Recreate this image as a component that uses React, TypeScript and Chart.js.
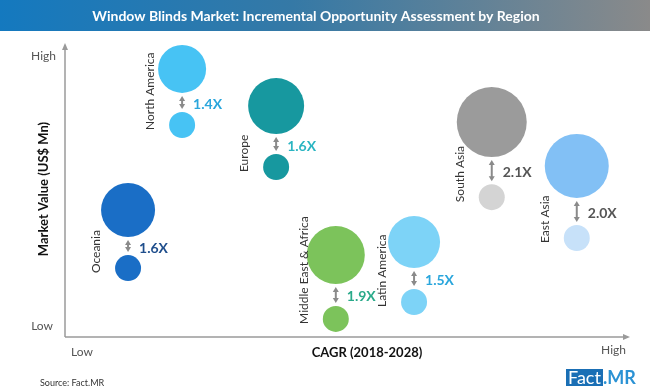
import React, { useEffect, useRef } from "react";
import { Chart, registerables } from "chart.js";

Chart.register(...registerables);

// ---- Data ----
const regions = ["North America", "Europe", "Oceania", "Middle East & Africa", "Latin America", "South Asia", "East Asia"];
// relative CAGR position (Low=0 .. High=100)
const cagrIndex = [20.8, 37.5, 11.2, 48.1, 62.0, 75.8, 90.9];
// relative market value position (Low=0 .. High=100)
const value2018 = [72.6, 58.2, 23.6, 6.2, 12.0, 47.9, 33.9];
const value2028 = [91.8, 79.1, 43.5, 28.1, 32.5, 73.6, 58.6];
// bubble sizes
const size2018 = [13, 13, 13, 13, 13, 13, 13];
const size2028 = [24, 28, 27, 29, 26, 35, 32];
const multipliers = ["1.4X", "1.6X", "1.6X", "1.9X", "1.5X", "2.1X", "2.0X"];

const bigColors = ["#47c3f4", "#17989f", "#1a6ec6", "#7cc35b", "#7dd3f7", "#9b9b9b", "#82c0f5"];
const smallColors = ["#47c3f4", "#17989f", "#1a6ec6", "#7cc35b", "#7dd3f7", "#d4d4d4", "#c7e1f9"];
const multColors = ["#2aa6dc", "#2bb5c2", "#1f4e8c", "#2aaa8a", "#2aa6dc", "#555555", "#555555"];

const FONT = "Lato, 'Open Sans', 'DejaVu Sans', sans-serif";

const decor = {
  id: "decor",
  beforeDraw(chart: any) {
    const ctx = chart.ctx;
    const W = chart.width;
    ctx.save();
    ctx.fillStyle = "#ffffff";
    ctx.fillRect(0, 0, W, chart.height);
    const g = ctx.createLinearGradient(0, 0, W, 0);
    g.addColorStop(0, "#1479bf");
    g.addColorStop(0.45, "#3579a6");
    g.addColorStop(1, "#8a8a8a");
    ctx.fillStyle = g;
    ctx.fillRect(0, 0, W, 31);
    ctx.fillStyle = "#ffffff";
    ctx.font = `bold 14px ${FONT}`;
    ctx.textAlign = "center";
    ctx.textBaseline = "middle";
    ctx.fillText("Window Blinds Market: Incremental Opportunity Assessment by Region", 316, 16);
    ctx.restore();
  },
  afterDatasetsDraw(chart: any) {
    const ctx = chart.ctx;
    const { left, right, top, bottom } = chart.chartArea;
    const xs = chart.scales.x;
    const ys = chart.scales.y;
    ctx.save();

    // axes
    ctx.strokeStyle = "#9a9a9a";
    ctx.fillStyle = "#9a9a9a";
    ctx.lineWidth = 1.5;
    ctx.beginPath();
    ctx.moveTo(left, bottom);
    ctx.lineTo(left, top + 2);
    ctx.moveTo(left, bottom);
    ctx.lineTo(right - 2, bottom);
    ctx.stroke();
    ctx.beginPath();
    ctx.moveTo(left, top - 2);
    ctx.lineTo(left - 3, top + 5);
    ctx.lineTo(left + 3, top + 5);
    ctx.closePath();
    ctx.fill();
    ctx.beginPath();
    ctx.moveTo(right + 2, bottom);
    ctx.lineTo(right - 5, bottom - 3);
    ctx.lineTo(right - 5, bottom + 3);
    ctx.closePath();
    ctx.fill();

    // arrows, multipliers, region labels
    for (let i = 0; i < regions.length; i++) {
      const x = xs.getPixelForValue(cagrIndex[i]);
      const yB = ys.getPixelForValue(value2028[i]);
      const yS = ys.getPixelForValue(value2018[i]);
      const a = yB + size2028[i] + 3;
      const b = yS - size2018[i] - 3;
      ctx.strokeStyle = "#8a8a8a";
      ctx.fillStyle = "#8a8a8a";
      ctx.lineWidth = 2;
      ctx.beginPath();
      ctx.moveTo(x, a + 3);
      ctx.lineTo(x, b - 3);
      ctx.stroke();
      ctx.beginPath();
      ctx.moveTo(x, a);
      ctx.lineTo(x - 3, a + 5);
      ctx.lineTo(x + 3, a + 5);
      ctx.closePath();
      ctx.fill();
      ctx.beginPath();
      ctx.moveTo(x, b);
      ctx.lineTo(x - 3, b - 5);
      ctx.lineTo(x + 3, b - 5);
      ctx.closePath();
      ctx.fill();

      ctx.fillStyle = multColors[i];
      ctx.font = `bold 14px ${FONT}`;
      ctx.textAlign = "left";
      ctx.textBaseline = "middle";
      ctx.fillText(multipliers[i], x + 11, (a + b) / 2 + 2);

      ctx.save();
      ctx.translate(x - 32, yS + 5);
      ctx.rotate(-Math.PI / 2);
      ctx.fillStyle = "#333333";
      ctx.font = `12px ${FONT}`;
      ctx.textAlign = "left";
      ctx.textBaseline = "middle";
      ctx.fillText(regions[i], 0, 0);
      ctx.restore();
    }

    // axis labels
    ctx.fillStyle = "#555555";
    ctx.font = `12px ${FONT}`;
    ctx.textBaseline = "middle";
    ctx.textAlign = "right";
    ctx.fillText("High", 56, 56);
    ctx.fillText("Low", 53, 326);
    ctx.textAlign = "left";
    ctx.fillText("Low", 71, 352);
    ctx.textAlign = "right";
    ctx.fillText("High", 626, 350);

    ctx.fillStyle = "#111111";
    ctx.font = `bold 13px ${FONT}`;
    ctx.textAlign = "center";
    ctx.fillText("CAGR (2018-2028)", 367, 353);
    ctx.save();
    ctx.translate(44, 189);
    ctx.rotate(-Math.PI / 2);
    ctx.fillText("Market Value (US$ Mn)", 0, 0);
    ctx.restore();

    // source
    ctx.fillStyle = "#333333";
    ctx.font = `9px ${FONT}`;
    ctx.textAlign = "left";
    ctx.fillText("Source: Fact.MR", 40, 383);

    // logo
    ctx.fillStyle = "#1a6fb5";
    ctx.fillRect(566, 369, 37, 17);
    ctx.fillStyle = "#ffffff";
    ctx.font = `18px ${FONT}`;
    ctx.textAlign = "left";
    ctx.fillText("Fact", 568, 378);
    ctx.fillStyle = "#2a92d4";
    ctx.font = `bold 18px ${FONT}`;
    ctx.fillText(".MR", 603, 378);

    ctx.restore();
  },
};

export default function App() {
  const ref = useRef<HTMLCanvasElement>(null);
  useEffect(() => {
    if (!ref.current) return;
    const chart = new Chart(ref.current, {
      type: "bubble",
      data: {
        datasets: [
          {
            label: "2028",
            data: regions.map((_, i) => ({ x: cagrIndex[i], y: value2028[i], r: size2028[i] })),
            backgroundColor: bigColors,
            borderWidth: 0,
            clip: false,
          } as any,
          {
            label: "2018",
            data: regions.map((_, i) => ({ x: cagrIndex[i], y: value2018[i], r: size2018[i] })),
            backgroundColor: smallColors,
            borderWidth: 0,
            clip: false,
          } as any,
        ],
      },
      options: {
        responsive: false,
        devicePixelRatio: 1,
        animation: false,
        layout: { autoPadding: false, padding: { left: 65, top: 45, right: 22, bottom: 54 } },
        scales: {
          x: { type: "linear", min: 0, max: 100, display: false },
          y: { type: "linear", min: 0, max: 100, display: false },
        },
        plugins: { legend: { display: false }, tooltip: { enabled: false }, title: { display: false } },
        elements: { point: { hoverRadius: 0 } },
      },
      plugins: [decor],
    });
    return () => chart.destroy();
  }, []);
  return (
    <div style={{ position: "fixed", left: 0, top: 0, width: 650, height: 391, background: "#fff" }}>
      <canvas ref={ref} width={650} height={391} />
    </div>
  );
}
